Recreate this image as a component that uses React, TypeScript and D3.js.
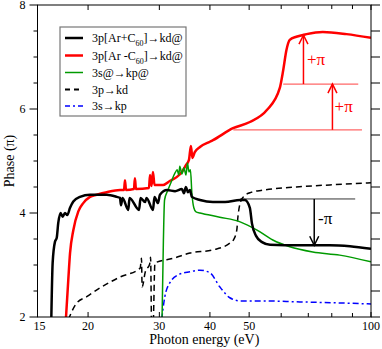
import React, { useEffect, useRef } from 'react';
import * as d3 from 'd3';

// [photon energy (eV), phase (pi)]
const arPlusC60: [number, number][] = [
  [16.22, 1.9], [16.35, 3.04], [16.57, 3.45], [16.73, 3.52], [16.88, 3.81], [17.11, 4.0],
  [17.31, 3.93], [17.54, 4.0], [17.77, 3.96], [18.05, 4.1], [18.39, 4.22], [19.1, 4.31],
  [20.22, 4.35], [22.24, 4.35], [23.54, 4.31], [23.98, 4.29], [24.12, 4.15], [24.33, 4.29],
  [25.14, 4.06], [25.32, 4.29], [26.73, 4.06], [26.96, 4.29], [27.66, 4.21], [27.89, 4.29],
  [28.93, 4.06], [29.18, 4.31], [29.77, 4.19], [30.1, 4.35], [31.35, 4.44], [32.81, 4.42],
  [34.1, 4.46], [34.5, 4.38], [34.9, 4.5], [35.3, 4.4], [35.7, 4.44], [36.1, 4.31],
  [37.8, 4.25], [40.7, 4.21], [43.6, 4.21], [47.5, 4.25], [48.8, 4.25], [50.2, 4.1],
  [50.8, 3.8], [52.0, 3.56], [53.8, 3.44], [56.3, 3.39], [66.7, 3.38], [79.1, 3.38],
  [88.7, 3.36], [100, 3.31],
];

const arMinusC60: [number, number][] = [
  [17.61, 1.9], [17.87, 2.71], [18.05, 3.23], [18.39, 3.67], [18.92, 4.03], [19.46, 4.19],
  [20.22, 4.31], [21.0, 4.35], [22.24, 4.4], [24.0, 4.44], [24.54, 4.44], [24.67, 4.63],
  [24.82, 4.44], [25.96, 4.46], [26.11, 4.67], [26.26, 4.46], [28.28, 4.48], [28.45, 4.73],
  [28.69, 4.52], [28.93, 4.79], [29.18, 4.54], [30.66, 4.54], [31.9, 4.62], [33.1, 4.69],
  [34.1, 4.79], [34.9, 4.92], [35.5, 5.02], [35.9, 5.29], [36.2, 5.06], [36.7, 5.17],
  [37.8, 5.27], [40.0, 5.37], [40.7, 5.4], [45.6, 5.63], [50.2, 5.75], [55.3, 5.98],
  [59.5, 6.4], [60.7, 6.75], [61.8, 7.13], [63.0, 7.33], [65.4, 7.39], [69.3, 7.44],
  [76.0, 7.48], [87.0, 7.44], [100, 7.37],
];

const s3At: [number, number][] = [
  [30.45, 1.9], [30.7, 3.48], [30.9, 4.25], [31.5, 4.44], [32.1, 4.6], [32.8, 4.77],
  [33.2, 4.83], [33.5, 4.73], [33.7, 4.9], [34.1, 4.75], [34.5, 4.87], [34.9, 4.73],
  [35.2, 4.96], [35.5, 4.79], [35.8, 4.83], [36.1, 4.38], [36.5, 4.1], [36.96, 4.02],
  [37.8, 4.0], [42.3, 3.92], [47.5, 3.83], [52.3, 3.67], [57.2, 3.48], [63.0, 3.35],
  [71.8, 3.25], [83.7, 3.19], [100, 3.06],
];

const p3Free: [number, number][] = [
  [17.87, 1.95], [18.75, 2.27], [19.85, 2.39], [21.4, 2.56], [24.0, 2.77], [26.9, 2.94],
  [27.1, 3.13], [27.2, 2.58], [27.7, 2.87], [28.4, 3.02], [28.54, 3.15], [28.73, 1.6],
  [28.9, 1.6], [29.26, 3.04], [32.5, 3.13], [35.7, 3.23], [40.7, 3.29], [44.8, 3.42],
  [45.7, 3.48], [46.6, 3.67], [46.9, 3.92], [47.5, 4.19], [48.4, 4.31], [50.2, 4.39],
  [54.1, 4.44], [65.4, 4.5], [79.1, 4.54], [100, 4.58],
];

const s3Free: [number, number][] = [
  [30.4, 1.95], [30.95, 2.39], [31.8, 2.65], [33.4, 2.81], [35.7, 2.87], [37.8, 2.9],
  [40.0, 2.85], [42.3, 2.58], [44.8, 2.37], [47.5, 2.31], [53.2, 2.31], [66.7, 2.29],
  [83.7, 2.27], [100, 2.25],
];

const legendLabels = ['3p[Ar+C', '3p[Ar -C', '3s@→kp@', '3p→kd', '3s→kp'];
const xTicks = [15, 20, 30, 40, 50, 100];
const xMinor = [60, 70, 80, 90];
const yTicks = [2, 4, 6, 8];

// annotation levels, in data units
const redLevels: [number, number, number][] = [[60.7, 93.0, 6.48], [45.7, 95.0, 5.6]];
const redArrows: [number, number, number][] = [[68.1, 6.48, 7.42], [80.3, 5.6, 6.48]];
const blackLevel: [number, number, number] = [47.5, 91.4, 4.27];
const blackArrow: [number, number, number] = [72.4, 4.27, 3.38];

const W = 382, H = 349;
const margin = { left: 37.5, right: 11, top: 5, bottom: 32 };
const FONT = "'Liberation Serif', 'Times New Roman', Times, serif";

const App = () => {
  const svgRef = useRef<SVGSVGElement>(null);

  useEffect(() => {
    const svg = d3.select(svgRef.current);
    svg.selectAll('*').remove();
    const x = d3.scaleLog().domain([15, 100]).range([margin.left, W - margin.right]);
    const y = d3.scaleLinear().domain([2, 8]).range([H - margin.bottom, margin.top]);

    svg.append('defs').append('clipPath').attr('id', 'plotclip')
      .append('rect')
      .attr('x', x(15)).attr('y', y(8))
      .attr('width', x(100) - x(15)).attr('height', y(2) - y(8));

    const line = d3.line<[number, number]>()
      .x(d => x(d[0])).y(d => y(d[1]))
      .curve(d3.curveMonotoneX);

    const plot = svg.append('g').attr('clip-path', 'url(#plotclip)');
    const series = [
      { data: p3Free, color: '#000', w: 1.5, dash: '6,4' },
      { data: s3Free, color: '#0000ff', w: 1.5, dash: '6,3,2,3' },
      { data: arMinusC60, color: '#ff0000', w: 2.5, dash: null },
      { data: s3At, color: '#009a00', w: 1.5, dash: null },
      { data: arPlusC60, color: '#000', w: 2.5, dash: null },
    ];
    series.forEach(s => {
      plot.append('path')
        .attr('d', line(s.data))
        .attr('fill', 'none')
        .attr('stroke', s.color)
        .attr('stroke-width', s.w)
        .attr('stroke-dasharray', s.dash);
    });

    // annotations
    const arrow = (g: any, xv: number, y0: number, y1: number, color: string) => {
      const px = x(xv), a = y(y0), b = y(y1);
      const dir = b < a ? 1 : -1;
      g.append('line').attr('x1', px).attr('x2', px).attr('y1', a).attr('y2', b)
        .attr('stroke', color).attr('stroke-width', 1.5);
      g.append('path')
        .attr('d', `M${px - 4.5},${b + dir * 9}L${px},${b}L${px + 4.5},${b + dir * 9}`)
        .attr('fill', 'none').attr('stroke', color).attr('stroke-width', 1.5);
    };
    const ann = svg.append('g').style('font-family', FONT);
    redLevels.forEach(([x0, x1, v]) => {
      ann.append('line').attr('x1', x(x0)).attr('x2', x(x1)).attr('y1', y(v)).attr('y2', y(v))
        .attr('stroke', '#ff0000').attr('stroke-opacity', 0.6).attr('stroke-width', 1.2);
    });
    redArrows.forEach(([xv, y0, y1]) => arrow(ann, xv, y0, y1, '#ff0000'));
    ann.append('text').attr('x', x(69.5)).attr('y', y(6.85)).text('+π')
      .attr('fill', '#ff0000').style('font-size', '17px');
    ann.append('text').attr('x', x(81.3)).attr('y', y(5.95)).text('+π')
      .attr('fill', '#ff0000').style('font-size', '17px');
    ann.append('line')
      .attr('x1', x(blackLevel[0])).attr('x2', x(blackLevel[1]))
      .attr('y1', y(blackLevel[2])).attr('y2', y(blackLevel[2]))
      .attr('stroke', '#000').attr('stroke-width', 0.8);
    arrow(ann, blackArrow[0], blackArrow[1], blackArrow[2], '#000');
    ann.append('text').attr('x', x(74.0)).attr('y', y(3.78)).text('-π')
      .attr('fill', '#000').style('font-size', '17px');

    // frame
    const axes = svg.append('g').attr('stroke', '#000').attr('stroke-width', 1);
    axes.append('rect')
      .attr('x', x(15)).attr('y', y(8))
      .attr('width', x(100) - x(15)).attr('height', y(2) - y(8))
      .attr('fill', 'none');
    [...xTicks, ...xMinor].forEach(t => {
      const len = xTicks.includes(t) ? 5 : 4;
      axes.append('line').attr('x1', x(t)).attr('x2', x(t))
        .attr('y1', y(2)).attr('y2', y(2) - len);
      axes.append('line').attr('x1', x(t)).attr('x2', x(t))
        .attr('y1', y(8)).attr('y2', y(8) + len);
    });
    d3.range(2, 8.01, 0.5).forEach(t => {
      const major = yTicks.includes(t);
      axes.append('line').attr('x1', x(15)).attr('x2', x(15) - (major ? 8 : 4))
        .attr('y1', y(t)).attr('y2', y(t));
      axes.append('line').attr('x1', x(100)).attr('x2', x(100) + 9)
        .attr('y1', y(t)).attr('y2', y(t));
    });

    const labels = svg.append('g').style('font-family', FONT).style('font-size', '12px').attr('fill', '#000');
    xTicks.forEach(t => {
      labels.append('text').attr('x', x(t) + (t === 15 ? 2 : 0)).attr('y', y(2) + 13)
        .attr('text-anchor', 'middle').text(t);
    });
    yTicks.forEach(t => {
      labels.append('text').attr('x', x(15) - 12).attr('y', y(t) + 4)
        .attr('text-anchor', 'end').text(t);
    });
    svg.append('text').attr('x', (x(15) + x(100)) / 2).attr('y', 344)
      .attr('text-anchor', 'middle').style('font-family', FONT).style('font-size', '14px')
      .text('Photon energy (eV)');
    svg.append('text')
      .attr('transform', `translate(14,${(y(2) + y(8)) / 2}) rotate(-90)`)
      .attr('text-anchor', 'middle').style('font-family', FONT).style('font-size', '14px')
      .text('Phase (π)');

    // legend
    const leg = svg.append('g');
    leg.append('rect').attr('x', 60).attr('y', 27).attr('width', 126).attr('height', 89)
      .attr('fill', '#fff').attr('stroke', '#777').attr('stroke-width', 1.2);
    const legStyles = [
      { color: '#000', w: 2.5, dash: null },
      { color: '#ff0000', w: 2.5, dash: null },
      { color: '#009a00', w: 1.5, dash: null },
      { color: '#000', w: 2, dash: '5,4' },
      { color: '#0000ff', w: 1.5, dash: '5,3,2,3' },
    ];
    const rowY = [38, 55.5, 72.5, 89.5, 106];
    legendLabels.forEach((lab, i) => {
      const st = legStyles[i];
      leg.append('line').attr('x1', 65).attr('x2', 83).attr('y1', rowY[i]).attr('y2', rowY[i])
        .attr('stroke', st.color).attr('stroke-width', st.w).attr('stroke-dasharray', st.dash);
      const t = leg.append('text').attr('x', 92).attr('y', rowY[i] + 4)
        .style('font-family', FONT).style('font-size', '12px').text(lab);
      if (i < 2) {
        t.append('tspan').style('font-size', '8px').attr('dy', 4).text('60');
        t.append('tspan').attr('dy', -4).text(']→kd@');
      }
    });
  }, []);

  return (
    <svg ref={svgRef} width={W} height={H} style={{ position: 'absolute', left: 0, top: 0, background: '#fff' }}></svg>
  );
};

export default App;
